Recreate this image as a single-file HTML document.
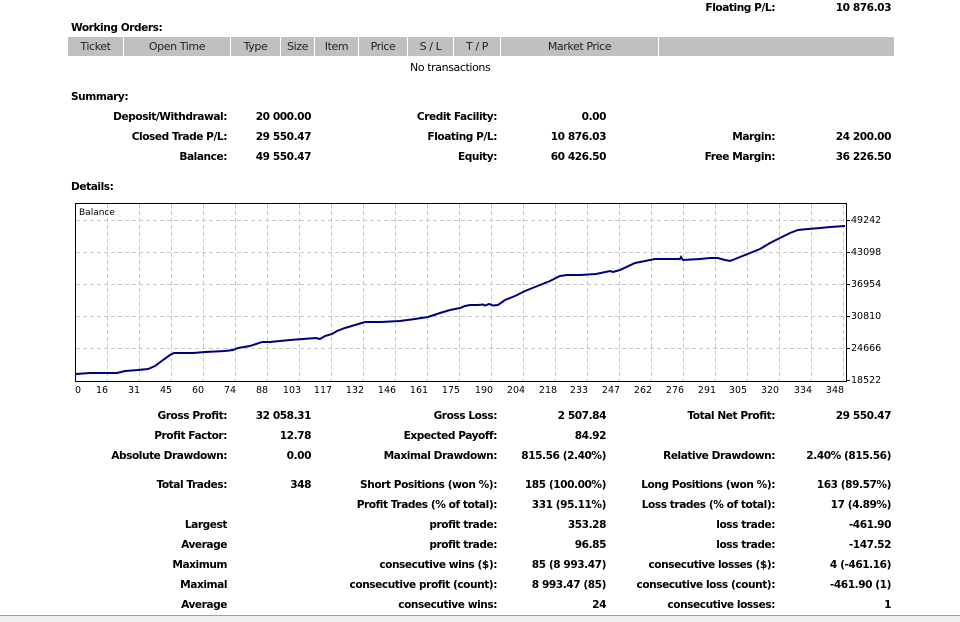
<!DOCTYPE html>
<html><head><meta charset="utf-8"><style>
body{margin:0;width:960px;height:621px;background:#fff;position:relative;overflow:hidden;font-family:"DejaVu Sans","Liberation Sans",sans-serif;font-size:11px;color:#000}
.t{position:absolute;white-space:nowrap;line-height:14px;font-weight:bold;font-size:10.6px;letter-spacing:-0.45px;margin-top:1px}
.r{text-align:right}
.h{position:absolute;top:37px;height:19px;background:#c0c0c0;line-height:19px;text-align:center;font-size:11px;color:#222;letter-spacing:-0.4px}
.n{position:absolute;font-size:11px;line-height:14px;letter-spacing:-0.4px;margin-top:1px}
</style></head><body>
<div class="t" style="right:185px;top:0px">Floating P/L:</div>
<div class="t" style="right:69px;top:0px">10 876.03</div>
<div class="t" style="left:71px;top:20px">Working Orders:</div>
<div class="h" style="left:68px;width:55px">Ticket</div>
<div class="h" style="left:124px;width:106px">Open Time</div>
<div class="h" style="left:231px;width:49px">Type</div>
<div class="h" style="left:281px;width:33px">Size</div>
<div class="h" style="left:315px;width:43px">Item</div>
<div class="h" style="left:359px;width:48px">Price</div>
<div class="h" style="left:408px;width:45px">S / L</div>
<div class="h" style="left:454px;width:46px">T / P</div>
<div class="h" style="left:501px;width:157px">Market Price</div>
<div class="h" style="left:659px;width:235px"></div>
<div class="n" style="left:410px;top:60px">No transactions</div>
<div class="t" style="left:71px;top:89px">Summary:</div>
<div class="t r" style="right:733px;top:109px">Deposit/Withdrawal:</div><div class="t r" style="right:649px;top:109px">20 000.00</div>
<div class="t r" style="right:463px;top:109px">Credit Facility:</div><div class="t r" style="right:354px;top:109px">0.00</div>
<div class="t r" style="right:733px;top:129px">Closed Trade P/L:</div><div class="t r" style="right:649px;top:129px">29 550.47</div>
<div class="t r" style="right:463px;top:129px">Floating P/L:</div><div class="t r" style="right:354px;top:129px">10 876.03</div>
<div class="t r" style="right:185px;top:129px">Margin:</div><div class="t r" style="right:69px;top:129px">24 200.00</div>
<div class="t r" style="right:733px;top:149px">Balance:</div><div class="t r" style="right:649px;top:149px">49 550.47</div>
<div class="t r" style="right:463px;top:149px">Equity:</div><div class="t r" style="right:354px;top:149px">60 426.50</div>
<div class="t r" style="right:185px;top:149px">Free Margin:</div><div class="t r" style="right:69px;top:149px">36 226.50</div>
<div class="t" style="left:71px;top:179px">Details:</div>

<svg style="position:absolute;left:0;top:0" width="960" height="400" font-family="DejaVu Sans, Liberation Sans, sans-serif" font-size="9.5">
<rect x="75.5" y="203.5" width="771" height="178" fill="#fff" stroke="#000"/>
<g stroke="#c8c8c8" stroke-dasharray="4,3">
<path d="M107.5 204V381M139.5 204V381M171.5 204V381M203.5 204V381M235.5 204V381M267.5 204V381M299.5 204V381M331.5 204V381M363.5 204V381M395.5 204V381M427.5 204V381M459.5 204V381M491.5 204V381M523.5 204V381M555.5 204V381M587.5 204V381M619.5 204V381M651.5 204V381M683.5 204V381M715.5 204V381M747.5 204V381M779.5 204V381M811.5 204V381M843.5 204V381"/>
<path d="M76 220.5H846M76 252.5H846M76 284.5H846M76 316.5H846M76 348.5H846"/>
</g>
<text x="79" y="215" font-size="9">Balance</text>
<polyline fill="none" stroke="#000080" stroke-width="2" points="76,374 90,373 117,373 125,371 138,370 148,369 155,366 163,360 170,355 174,353 193,353 205,352 225,351 233,350 238,348 250,346 262,342 270,342 290,340 316,338 320,339 325,336 332,334 337,331 345,328 355,325 365,322 380,322 400,321 415,319 428,317 440,313 450,310 460,308 465,306 470,305 478,305 483,304.5 485,305.5 489,304 493,305.5 498,305 505,300 515,296 525,291 540,285 550,281 560,276 567,275 580,275 596,274 610,271 613,272 620,270 635,263 645,261 655,259 665,259 680,259 681,257 683,260 700,259 710,258 718,258 725,260 730,261 740,257 750,253 760,249 770,243 780,238 790,233 798,230 808,229 820,228 830,227 845,226"/>
<g stroke="#000"><path d="M846 220.5h4M846 252.5h4M846 284.5h4M846 316.5h4M846 348.5h4M846 380.5h4"/></g>
<g fill="#000">
<text x="851" y="223">49242</text><text x="851" y="255">43098</text><text x="851" y="287">36954</text><text x="851" y="319">30810</text><text x="851" y="351">24666</text><text x="851" y="383">18522</text>
</g>
<g text-anchor="middle" fill="#000">
<text x="78" y="393">0</text><text x="102" y="393">16</text><text x="134" y="393">31</text><text x="166" y="393">45</text><text x="198" y="393">60</text><text x="230" y="393">74</text><text x="262" y="393">88</text><text x="292" y="393">103</text><text x="323" y="393">117</text><text x="355" y="393">132</text><text x="387" y="393">146</text><text x="419" y="393">161</text><text x="451" y="393">175</text><text x="484" y="393">190</text><text x="516" y="393">204</text><text x="548" y="393">218</text><text x="579" y="393">233</text><text x="611" y="393">247</text><text x="643" y="393">262</text><text x="675" y="393">276</text><text x="707" y="393">291</text><text x="738" y="393">305</text><text x="770" y="393">320</text><text x="803" y="393">334</text><text x="835" y="393">348</text>
</g>
</svg>

<div class="t r" style="right:733px;top:408px">Gross Profit:</div><div class="t r" style="right:649px;top:408px">32 058.31</div>
<div class="t r" style="right:463px;top:408px">Gross Loss:</div><div class="t r" style="right:354px;top:408px">2 507.84</div>
<div class="t r" style="right:185px;top:408px">Total Net Profit:</div><div class="t r" style="right:69px;top:408px">29 550.47</div>
<div class="t r" style="right:733px;top:428px">Profit Factor:</div><div class="t r" style="right:649px;top:428px">12.78</div>
<div class="t r" style="right:463px;top:428px">Expected Payoff:</div><div class="t r" style="right:354px;top:428px">84.92</div>
<div class="t r" style="right:733px;top:448px">Absolute Drawdown:</div><div class="t r" style="right:649px;top:448px">0.00</div>
<div class="t r" style="right:463px;top:448px">Maximal Drawdown:</div><div class="t r" style="right:354px;top:448px">815.56 (2.40%)</div>
<div class="t r" style="right:185px;top:448px">Relative Drawdown:</div><div class="t r" style="right:69px;top:448px">2.40% (815.56)</div>
<div class="t r" style="right:733px;top:477px">Total Trades:</div><div class="t r" style="right:649px;top:477px">348</div>
<div class="t r" style="right:463px;top:477px">Short Positions (won %):</div><div class="t r" style="right:354px;top:477px">185 (100.00%)</div>
<div class="t r" style="right:185px;top:477px">Long Positions (won %):</div><div class="t r" style="right:69px;top:477px">163 (89.57%)</div>
<div class="t r" style="right:463px;top:497px">Profit Trades (% of total):</div><div class="t r" style="right:354px;top:497px">331 (95.11%)</div>
<div class="t r" style="right:185px;top:497px">Loss trades (% of total):</div><div class="t r" style="right:69px;top:497px">17 (4.89%)</div>
<div class="t r" style="right:733px;top:517px">Largest</div>
<div class="t r" style="right:463px;top:517px">profit trade:</div><div class="t r" style="right:354px;top:517px">353.28</div>
<div class="t r" style="right:185px;top:517px">loss trade:</div><div class="t r" style="right:69px;top:517px">-461.90</div>
<div class="t r" style="right:733px;top:537px">Average</div>
<div class="t r" style="right:463px;top:537px">profit trade:</div><div class="t r" style="right:354px;top:537px">96.85</div>
<div class="t r" style="right:185px;top:537px">loss trade:</div><div class="t r" style="right:69px;top:537px">-147.52</div>
<div class="t r" style="right:733px;top:557px">Maximum</div>
<div class="t r" style="right:463px;top:557px">consecutive wins ($):</div><div class="t r" style="right:354px;top:557px">85 (8 993.47)</div>
<div class="t r" style="right:185px;top:557px">consecutive losses ($):</div><div class="t r" style="right:69px;top:557px">4 (-461.16)</div>
<div class="t r" style="right:733px;top:577px">Maximal</div>
<div class="t r" style="right:463px;top:577px">consecutive profit (count):</div><div class="t r" style="right:354px;top:577px">8 993.47 (85)</div>
<div class="t r" style="right:185px;top:577px">consecutive loss (count):</div><div class="t r" style="right:69px;top:577px">-461.90 (1)</div>
<div class="t r" style="right:733px;top:597px">Average</div>
<div class="t r" style="right:463px;top:597px">consecutive wins:</div><div class="t r" style="right:354px;top:597px">24</div>
<div class="t r" style="right:185px;top:597px">consecutive losses:</div><div class="t r" style="right:69px;top:597px">1</div>
<div style="position:absolute;left:0;top:615px;width:960px;height:6px;background:#f0f0f0;border-top:1px solid #a0a0a0"></div>
</body></html>
